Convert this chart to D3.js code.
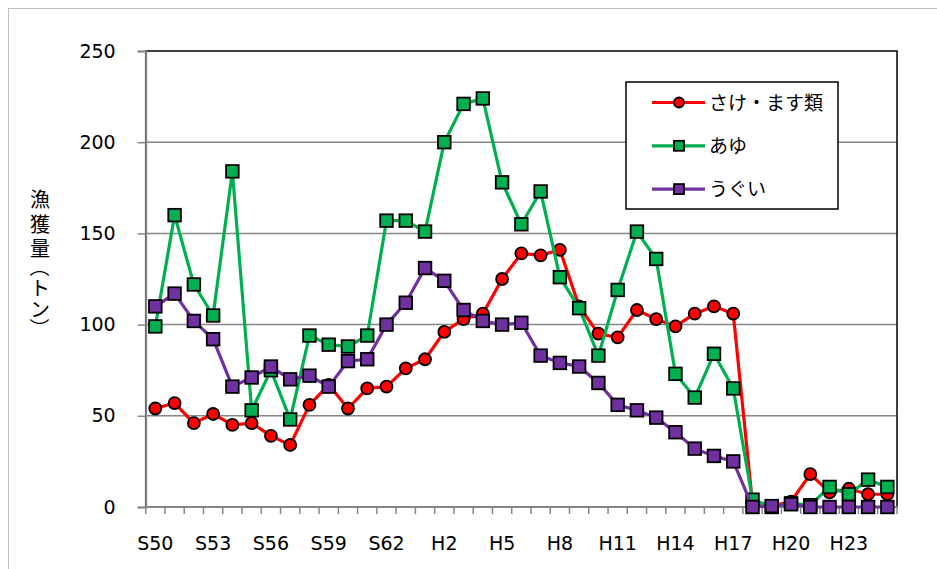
<!DOCTYPE html>
<html>
<head>
<meta charset="utf-8">
<script src="https://cdn.jsdelivr.net/npm/d3@7"></script>
<style>
body { margin: 0; background: #fff; }
svg { display: block; }
</style>
</head>
<body>
<div id="chart"></div>
<script>
var years = ["S50","S51","S52","S53","S54","S55","S56","S57","S58","S59","S60","S61","S62","S63",
  "H1","H2","H3","H4","H5","H6","H7","H8","H9","H10","H11","H12","H13","H14","H15","H16","H17",
  "H18","H19","H20","H21","H22","H23","H24","H25"];
var tickLabels = ["S50","S53","S56","S59","S62","H2","H5","H8","H11","H14","H17","H20","H23"];
var yTicks = [0, 50, 100, 150, 200, 250];

var sake = [54,57,46,51,45,46,39,34,56,67,54,65,66,76,81,96,103,106,125,139,138,141,110,95,93,108,103,99,106,110,106,2,0.5,3,18,8,10,7,7];
var ayu  = [99,160,122,105,184,53,75,48,94,89,88,94,157,157,151,200,221,224,178,155,173,126,109,83,119,151,136,73,60,84,65,4,0,2,1,11,7,15,11];
var ugui = [110,117,102,92,66,71,77,70,72,66,80,81,100,112,131,124,108,102,100,101,83,79,77,68,56,53,49,41,32,28,25,0,0.5,1.5,0,0,0,0,0];

var seriesNames = ["さけ・ます類", "あゆ", "うぐい"];
var seriesColors = ["#FF0000", "#00B050", "#7030A0"];
var seriesShapes = ["circle", "square", "square"];
var seriesData = [sake, ayu, ugui];

var yTitle = "漁獲量（トン）";

var width = 937, height = 569;
var pLeft = 145.7, pRight = 897, pTop = 51, pBottom = 507;

var svg = d3.select("#chart").append("svg")
  .attr("width", width).attr("height", height);

// chart area border
svg.append("rect").attr("x", 8.5).attr("y", 8.5)
  .attr("width", width).attr("height", height)
  .attr("fill", "#fff").attr("stroke", "#BFBFBF").attr("stroke-width", 1);

var x = d3.scaleBand().domain(years).range([pLeft, pRight]).padding(0);
var y = d3.scaleLinear().domain([0, 250]).range([pBottom, pTop]);

// gridlines
svg.append("g").selectAll("line").data(yTicks.slice(1, -1)).enter().append("line")
  .attr("x1", pLeft).attr("x2", pRight)
  .attr("y1", d => y(d)).attr("y2", d => y(d))
  .attr("stroke", "#868686").attr("stroke-width", 1.5);

// plot area border
svg.append("rect").attr("x", pLeft).attr("y", pTop)
  .attr("width", pRight - pLeft).attr("height", pBottom - pTop)
  .attr("fill", "none").attr("stroke", "#000").attr("stroke-width", 1.5);

// y axis
var yAxis = svg.append("g").attr("transform", "translate(" + pLeft + ",0)")
  .call(d3.axisLeft(y).tickValues(yTicks).tickSize(8).tickPadding(22));
yAxis.select(".domain").attr("stroke", "#868686").attr("stroke-width", 2);
yAxis.selectAll(".tick line").attr("stroke", "#868686").attr("stroke-width", 1.5);
yAxis.selectAll("text").style("font-family", "DejaVu Sans").style("font-size", "19px").attr("fill", "#000");

// x axis: ticks at band boundaries, labels every third category
var xg = svg.append("g");
xg.append("line").attr("x1", pLeft).attr("x2", pRight).attr("y1", pBottom).attr("y2", pBottom)
  .attr("stroke", "#868686").attr("stroke-width", 2);
xg.selectAll(".xt").data(years.concat([null])).enter().append("line")
  .attr("x1", (d, i) => pLeft + i * x.bandwidth()).attr("x2", (d, i) => pLeft + i * x.bandwidth())
  .attr("y1", pBottom).attr("y2", pBottom + 7)
  .attr("stroke", "#868686").attr("stroke-width", 1.5);
xg.selectAll("text").data(tickLabels).enter().append("text")
  .attr("x", d => x(d) + x.bandwidth() / 2).attr("y", 550)
  .attr("text-anchor", "middle")
  .style("font-family", "DejaVu Sans").style("font-size", "19px")
  .text(d => d);

// y axis title, stacked one character per row; brackets turned for vertical writing
var titleY = [198, 223, 247, 267, 287, 308, 328];
var tg = svg.append("g");
yTitle.split("").forEach(function(ch, i) {
  var isBracket = (ch === "（" || ch === "）");
  tg.append("text")
    .attr("text-anchor", "middle").attr("dominant-baseline", "central")
    .attr("transform", "translate(40," + titleY[i] + ")" + (isBracket ? " rotate(90)" : ""))
    .style("font-family", "Noto Sans CJK JP").style("font-size", "20px")
    .text(ch);
});

var line = d3.line().x((d, i) => x(years[i]) + x.bandwidth() / 2).y(d => y(d));

function drawMarker(g, shape, color, cx, cy, s) {
  if (shape === "circle") {
    g.append("circle").attr("cx", cx).attr("cy", cy).attr("r", s)
      .attr("fill", color).attr("stroke", "#000").attr("stroke-width", 1.8);
  } else {
    g.append("rect").attr("x", cx - s).attr("y", cy - s).attr("width", 2 * s).attr("height", 2 * s)
      .attr("fill", color).attr("stroke", "#000").attr("stroke-width", 1.8);
  }
}

seriesData.forEach(function(vals, k) {
  var g = svg.append("g");
  g.append("path").datum(vals).attr("d", line)
    .attr("fill", "none").attr("stroke", seriesColors[k]).attr("stroke-width", 3.2)
    .attr("stroke-linejoin", "round");
  vals.forEach(function(v, i) {
    drawMarker(g, seriesShapes[k], seriesColors[k], x(years[i]) + x.bandwidth() / 2, y(v),
      seriesShapes[k] === "circle" ? 6 : 6.3);
  });
});

// legend
var lg = svg.append("g");
lg.append("rect").attr("x", 626).attr("y", 82).attr("width", 212).attr("height", 127)
  .attr("fill", "#fff").attr("stroke", "#000").attr("stroke-width", 1.5);
seriesNames.forEach(function(name, k) {
  var ly = 102.5 + k * 43.3;
  lg.append("line").attr("x1", 652).attr("x2", 705).attr("y1", ly).attr("y2", ly)
    .attr("stroke", seriesColors[k]).attr("stroke-width", 3.2);
  drawMarker(lg, seriesShapes[k], seriesColors[k], 679, ly, 5);
  lg.append("text").attr("x", 709).attr("y", ly + 7)
    .style("font-family", "Noto Sans CJK JP").style("font-size", "19px")
    .text(name);
});
</script>
</body>
</html>
